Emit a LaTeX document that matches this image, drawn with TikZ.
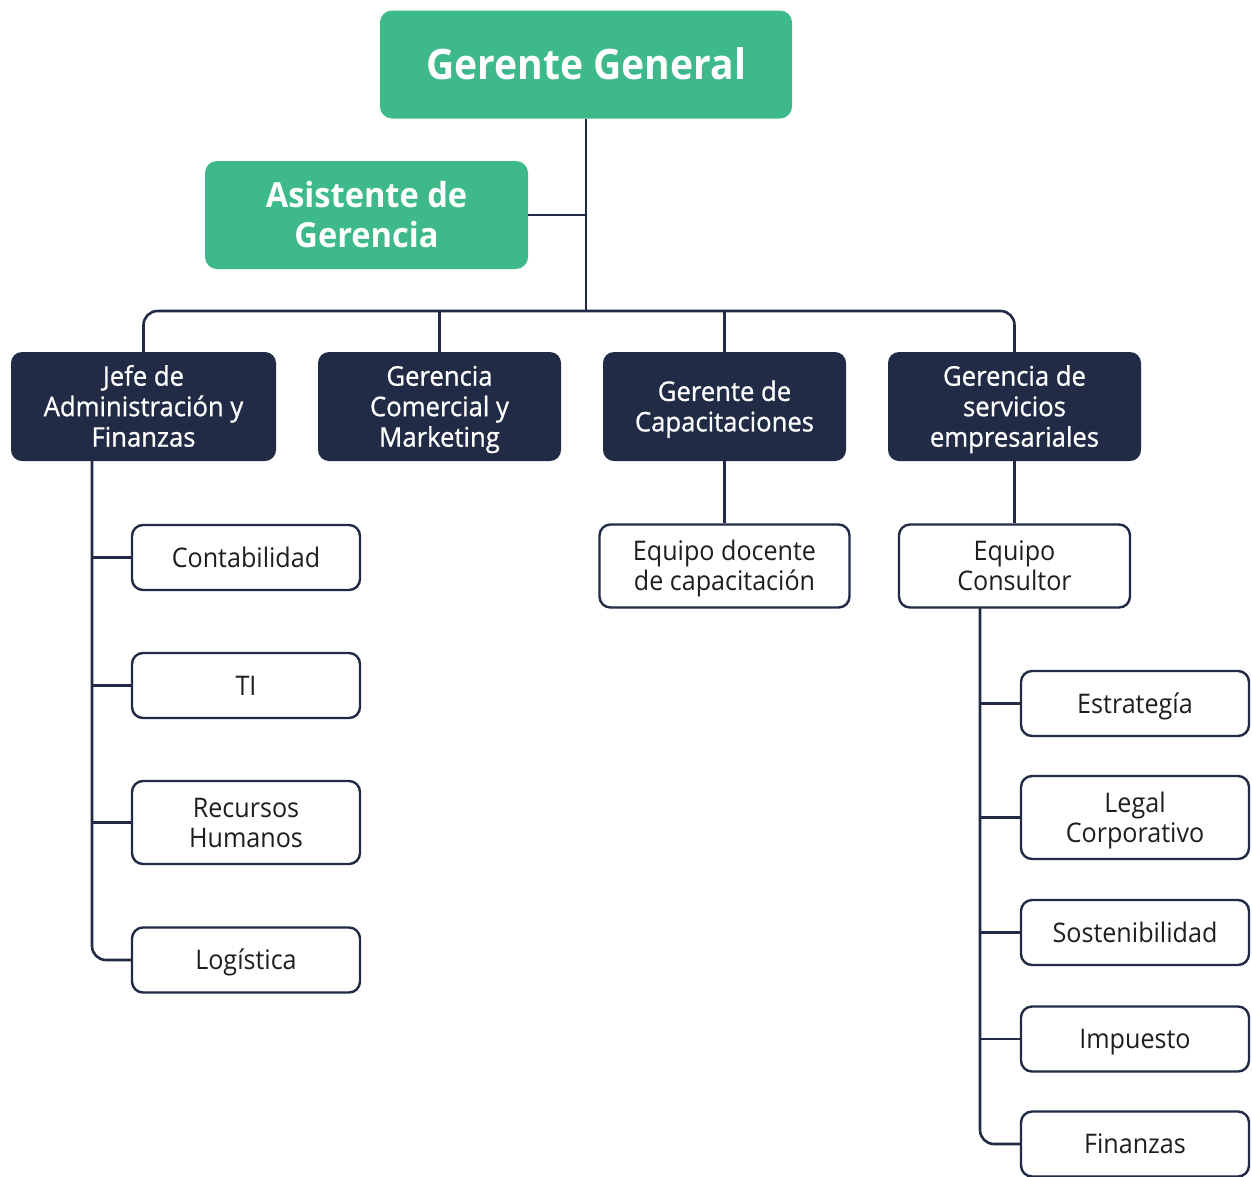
\documentclass[tikz,border=0pt]{standalone}
\usepackage{fontspec}
\setmainfont{Open Sans}
\newfontfamily\wfont[FakeStretch=0.93]{Open Sans}
\newfontfamily\dfont[FakeStretch=0.95,FakeBold=0.8]{Open Sans}
\newfontfamily\gfont[FakeStretch=0.93]{Open Sans}
\newfontfamily\afont[FakeStretch=0.945]{Open Sans}
\definecolor{gr}{HTML}{3DB98A}
\definecolor{nv}{HTML}{222B45}
\definecolor{tx}{HTML}{1E1E1E}
\begin{document}
\begin{tikzpicture}[x=1pt,y=-1pt,
  greenbox/.style={fill=gr,draw=none,rounded corners=12pt,text=white,align=center,inner sep=0pt},
  darkbox/.style={fill=nv,draw=none,rounded corners=11pt,text=white,align=center,font=\dfont\fontsize{27}{30.5}\selectfont,minimum height=109pt,inner sep=0pt,text depth=0pt},
  whitebox/.style={fill=white,draw=nv,line width=2.4pt,rounded corners=11pt,text=tx,align=center,font=\wfont\fontsize{27}{30}\selectfont,inner sep=0pt,text depth=0pt},
  one/.style={text height=19.3pt},
  two/.style={text height=49.3pt},
  twod/.style={text height=49.8pt},
  three/.style={text height=80.3pt},
  conn/.style={draw=nv,line width=2.6pt}]
\useasboundingbox (0,0) rectangle (1252,1176);
% top
\node[greenbox,minimum width=412pt,minimum height=108pt,font=\gfont\bfseries\fontsize{42}{50}\selectfont,text height=30pt,text depth=0pt] (gg) at (586,64.5) {Gerente General};
\node[greenbox,minimum width=323pt,minimum height=108pt,font=\afont\bfseries\fontsize{34.5}{40}\selectfont,text height=64.6pt,text depth=0pt] (asis) at (366.5,215) {Asistente de\\Gerencia};
% second level
\node[darkbox,three,minimum width=265pt] (jefe) at (143.5,406.5) {Jefe de\\Administración y\\Finanzas};
\node[darkbox,three,minimum width=243pt] (gcom) at (439.5,406.5) {Gerencia\\Comercial y\\Marketing};
\node[darkbox,twod,minimum width=243pt] (gcap) at (724.5,406.5) {Gerente de\\Capacitaciones};
\node[darkbox,three,minimum width=253pt] (gser) at (1014.5,406.5) {Gerencia de\\servicios\\empresariales};
% third level
\node[whitebox,two,minimum width=250pt,minimum height=83pt] (doc) at (724.5,566) {Equipo docente\\de capacitación};
\node[whitebox,two,minimum width=231pt,minimum height=83pt] (cons) at (1014.5,566) {Equipo\\Consultor};
% admin children
\node[whitebox,one,minimum width=228pt,minimum height=65pt] (cont) at (246,557.5) {Contabilidad};
\node[whitebox,one,minimum width=228pt,minimum height=65pt] (ti) at (246,685.5) {TI};
\node[whitebox,two,minimum width=228pt,minimum height=83pt] (rh) at (246,822.5) {Recursos\\Humanos};
\node[whitebox,one,minimum width=228pt,minimum height=65pt] (log) at (246,960) {Logística};
% consultor children
\node[whitebox,one,minimum width=228pt,minimum height=65pt] (est) at (1135,703.5) {Estrategía};
\node[whitebox,two,minimum width=228pt,minimum height=83pt] (leg) at (1135,817.5) {Legal\\Corporativo};
\node[whitebox,one,minimum width=228pt,minimum height=65pt] (sos) at (1135,932.5) {Sostenibilidad};
\node[whitebox,one,minimum width=228pt,minimum height=65pt] (imp) at (1135,1039) {Impuesto};
\node[whitebox,one,minimum width=228pt,minimum height=65pt] (fin) at (1135,1144) {Finanzas};
% connectors
\coordinate (bus) at (586,311);
\draw[conn] (gg.south) -- (bus);
\draw[conn] (asis.east) -- (asis.east -| gg.south);
\draw[conn,rounded corners=14pt] (jefe.north) |- (bus) -| (gser.north);
\draw[conn] (gcom.north) -- (gcom.north |- bus);
\draw[conn] (gcap.north) -- (gcap.north |- bus);
\draw[conn] (gcap.south) -- (doc.north);
\draw[conn] (gser.south) -- (cons.north);
\coordinate (ja) at (92,461);
\draw[conn,rounded corners=14pt] (ja) |- (log.west);
\foreach \n in {cont,ti,rh} \draw[conn] (\n.west) -- (\n.west -| ja);
\coordinate (cb) at (980,607);
\draw[conn,rounded corners=14pt] (cb) |- (fin.west);
\foreach \n in {est,leg,sos,imp} \draw[conn] (\n.west) -- (\n.west -| cb);
\end{tikzpicture}
\end{document}
